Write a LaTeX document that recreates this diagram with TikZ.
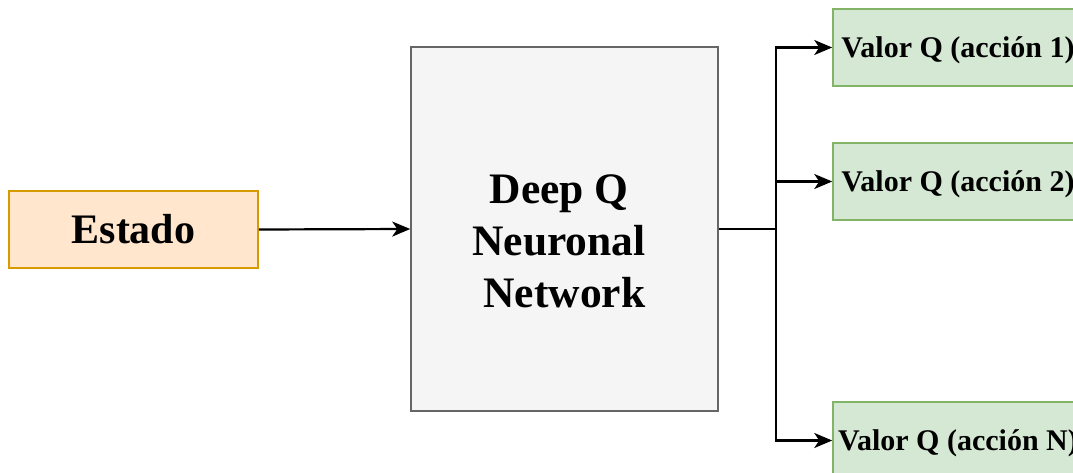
\documentclass[tikz,border=0pt]{standalone}
\usepackage{fontspec}
\setmainfont{Liberation Serif}
\usetikzlibrary{arrows.meta}

\definecolor{stateFill}{HTML}{FFE6CC}
\definecolor{stateLine}{HTML}{D79B00}
\definecolor{netFill}{HTML}{F5F5F5}
\definecolor{netLine}{HTML}{666666}
\definecolor{qFill}{HTML}{D5E8D4}
\definecolor{qLine}{HTML}{82B366}

\begin{document}
\begin{tikzpicture}[x=1pt, y=-1pt,
  box/.style={draw, line width=1.5pt, inner sep=0pt, anchor=center},
  statebox/.style={box, fill=stateFill, draw=stateLine,
    minimum width=249pt, minimum height=77pt,
    font=\bfseries\fontsize{42}{50}\selectfont, text height=28.7pt, text depth=0pt},
  netbox/.style={box, fill=netFill, draw=netLine,
    minimum width=307pt, minimum height=364pt},
  nettext/.style={inner sep=0pt, align=center,
    font=\bfseries\fontsize{43.5}{52}\selectfont},
  qbox/.style={box, fill=qFill, draw=qLine,
    minimum width=250pt, minimum height=77pt,
    font=\bfseries\fontsize{30}{36}\selectfont, text height=20.5pt, text depth=0pt},
  link/.style={draw=black, line width=2.2pt,
    -{Stealth[length=18pt, width=15pt, inset=5pt]}}
]
\useasboundingbox (0,0) rectangle (1073,473);
\clip (0,0) rectangle (1073,473);

% blocks
\node[statebox] (estado) at (133.5,229.5) {Estado};
\node[netbox] (dqn) at (564.5,229) {};
\node[nettext] (dqntext) at (564.5,241)
  {Deep Q\makebox[0.25em]{}\\Neuronal\makebox[0.25em]{}\\Network};

\node[qbox] (q1) at (958,47.5) {Valor Q (acción 1)};
\node[qbox] (q2) at (958,181.5) {Valor Q (acción 2)};
\node[qbox] (qn) at (958,440.5) {Valor Q (acción N)};

% connectors
\coordinate (split) at (776,229);
\draw[link] (estado.east) -- (dqn.west);
\draw[link] (dqn.east) -- (split) |- (q1.west);
\draw[link] (dqn.east) -- (split) |- (q2.west);
\draw[link] (dqn.east) -- (split) |- (qn.west);
\end{tikzpicture}
\end{document}
